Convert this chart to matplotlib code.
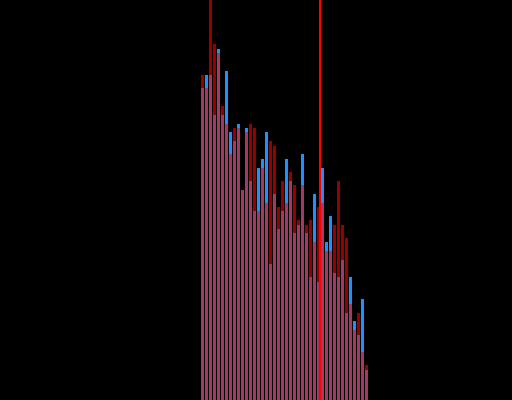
import numpy as np
import matplotlib
matplotlib.use("Agg")
from matplotlib import pyplot as plt

# bar heights (blue series drawn first, red on top with alpha)
blue_vals = [312, 325, 325, 285, 351, 285, 329, 268, 259, 276,
             210, 272, 219, 189, 232, 241, 268, 136, 206, 171,
             189, 241, 219, 167, 175, 246, 167, 123, 206, 118,
             232, 158, 184, 127, 123, 140, 87, 123, 79, 65,
             101, 30]
red_vals = [325, 312, 430, 356, 347, 294, 276, 246, 272, 272,
            210, 268, 276, 272, 189, 232, 197, 259, 254, 193,
            219, 197, 228, 215, 180, 215, 175, 180, 158, 193,
            197, 149, 149, 175, 219, 175, 162, 96, 70, 87,
            48, 35]
marker_x = 29.83  # vertical red line position

bins = np.arange(len(blue_vals))

fig = plt.figure(figsize=(5.12, 4.0), dpi=100, facecolor='black')
ax = fig.add_axes([0, 0, 1, 1])
ax.set_facecolor('black')

ax.bar(bins, blue_vals, width=0.75, align='edge', color='#1e90ff', linewidth=0)
ax.bar(bins, red_vals, width=0.75, align='edge', color='#ff0000', alpha=0.6, linewidth=0)
ax.axvline(marker_x, color='#ff0000', linewidth=1.5)

ax.set_xlim(-50.25, 77.75)
ax.set_ylim(0, 400)
ax.axis('off')

fig.savefig('out.png', dpi=100, facecolor='black')
